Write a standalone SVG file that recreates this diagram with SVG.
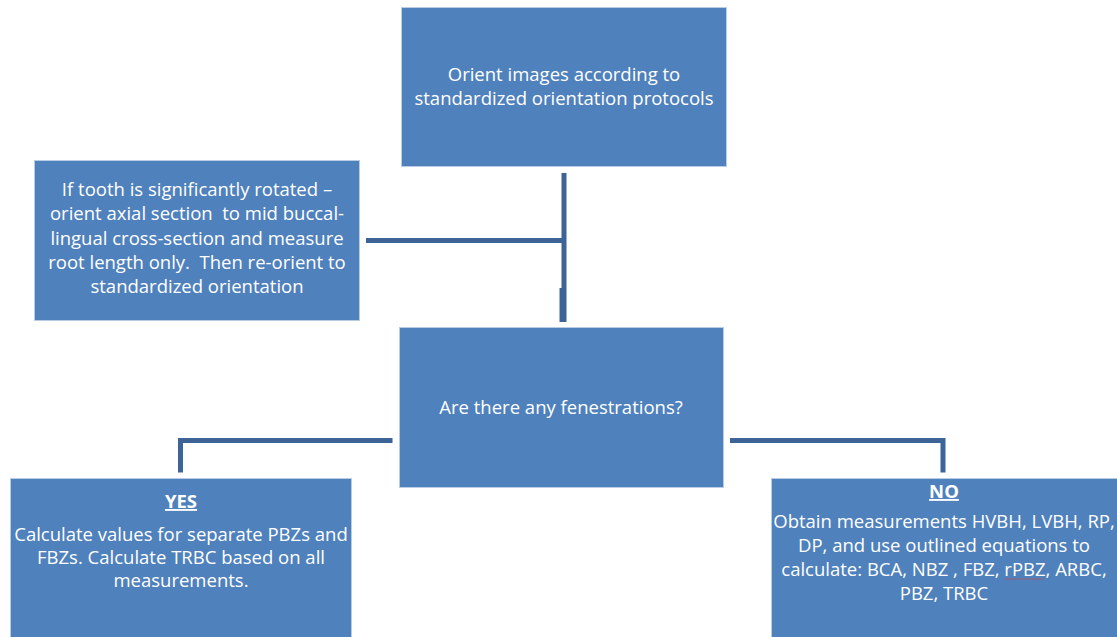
<svg xmlns="http://www.w3.org/2000/svg" width="1117" height="637" viewBox="0 0 1117 637">
<style>
.box{fill:#4F81BD;stroke:#B8CCE4;stroke-width:1}
.t{font-family:"Open Sans","Liberation Sans",sans-serif;font-size:18.5px;fill:#FFFFFF;text-anchor:middle;white-space:pre}
.b{font-weight:bold;text-decoration:underline}
.c{fill:none;stroke:#3C6496;stroke-width:5}
</style>
<rect width="1117" height="637" fill="#FFFFFF"/>
<g id="connectors">
<path class="c" d="M564,173 V322"/>
<path class="c" d="M562,288 V322"/>
<path class="c" d="M366,240.5 H564"/>
<path class="c" d="M392.5,440.5 H180.5 V472.5"/>
<path class="c" d="M730,440.5 H943 V472.5"/>
</g>
<g id="orient">
<rect class="box" x="401.5" y="7.5" width="325" height="159"/>
<text class="t" x="564" y="81">Orient images according to</text>
<text class="t" x="564" y="105">standardized orientation protocols</text>
</g>
<g id="rotated">
<rect class="box" x="34.5" y="160.5" width="325" height="160"/>
<text class="t" x="197" y="196">If tooth is significantly rotated –</text>
<text class="t" x="197" y="220">orient axial section  to mid buccal-</text>
<text class="t" x="197" y="245">lingual cross-section and measure</text>
<text class="t" x="197" y="269">root length only.  Then re-orient to</text>
<text class="t" x="197" y="293">standardized orientation</text>
</g>
<g id="fenestrations">
<rect class="box" x="399.5" y="327.5" width="324" height="160"/>
<text class="t" x="561" y="414">Are there any fenestrations?</text>
</g>
<g id="yes">
<rect class="box" x="10.5" y="478.5" width="341" height="160"/>
<text class="t b" x="181" y="508">YES</text>
<text class="t" x="181" y="541">Calculate values for separate PBZs and</text>
<text class="t" x="181" y="564">FBZs. Calculate TRBC based on all</text>
<text class="t" x="181" y="587">measurements.</text>
</g>
<g id="no">
<rect class="box" x="771.5" y="478.5" width="346" height="160"/>
<text class="t b" x="944" y="498">NO</text>
<text class="t" x="944" y="528">Obtain measurements HVBH, LVBH, RP,</text>
<text class="t" x="944" y="552">DP, and use outlined equations to</text>
<text class="t" x="944" y="576">calculate: BCA, NBZ , FBZ, rPBZ, ARBC,</text>
<text class="t" x="944" y="600">PBZ, TRBC</text>
<path d="M1005,579 L1043,579" stroke="#C0504D" stroke-width="1" stroke-dasharray="2,1" fill="none"/>
</g>
</svg>
